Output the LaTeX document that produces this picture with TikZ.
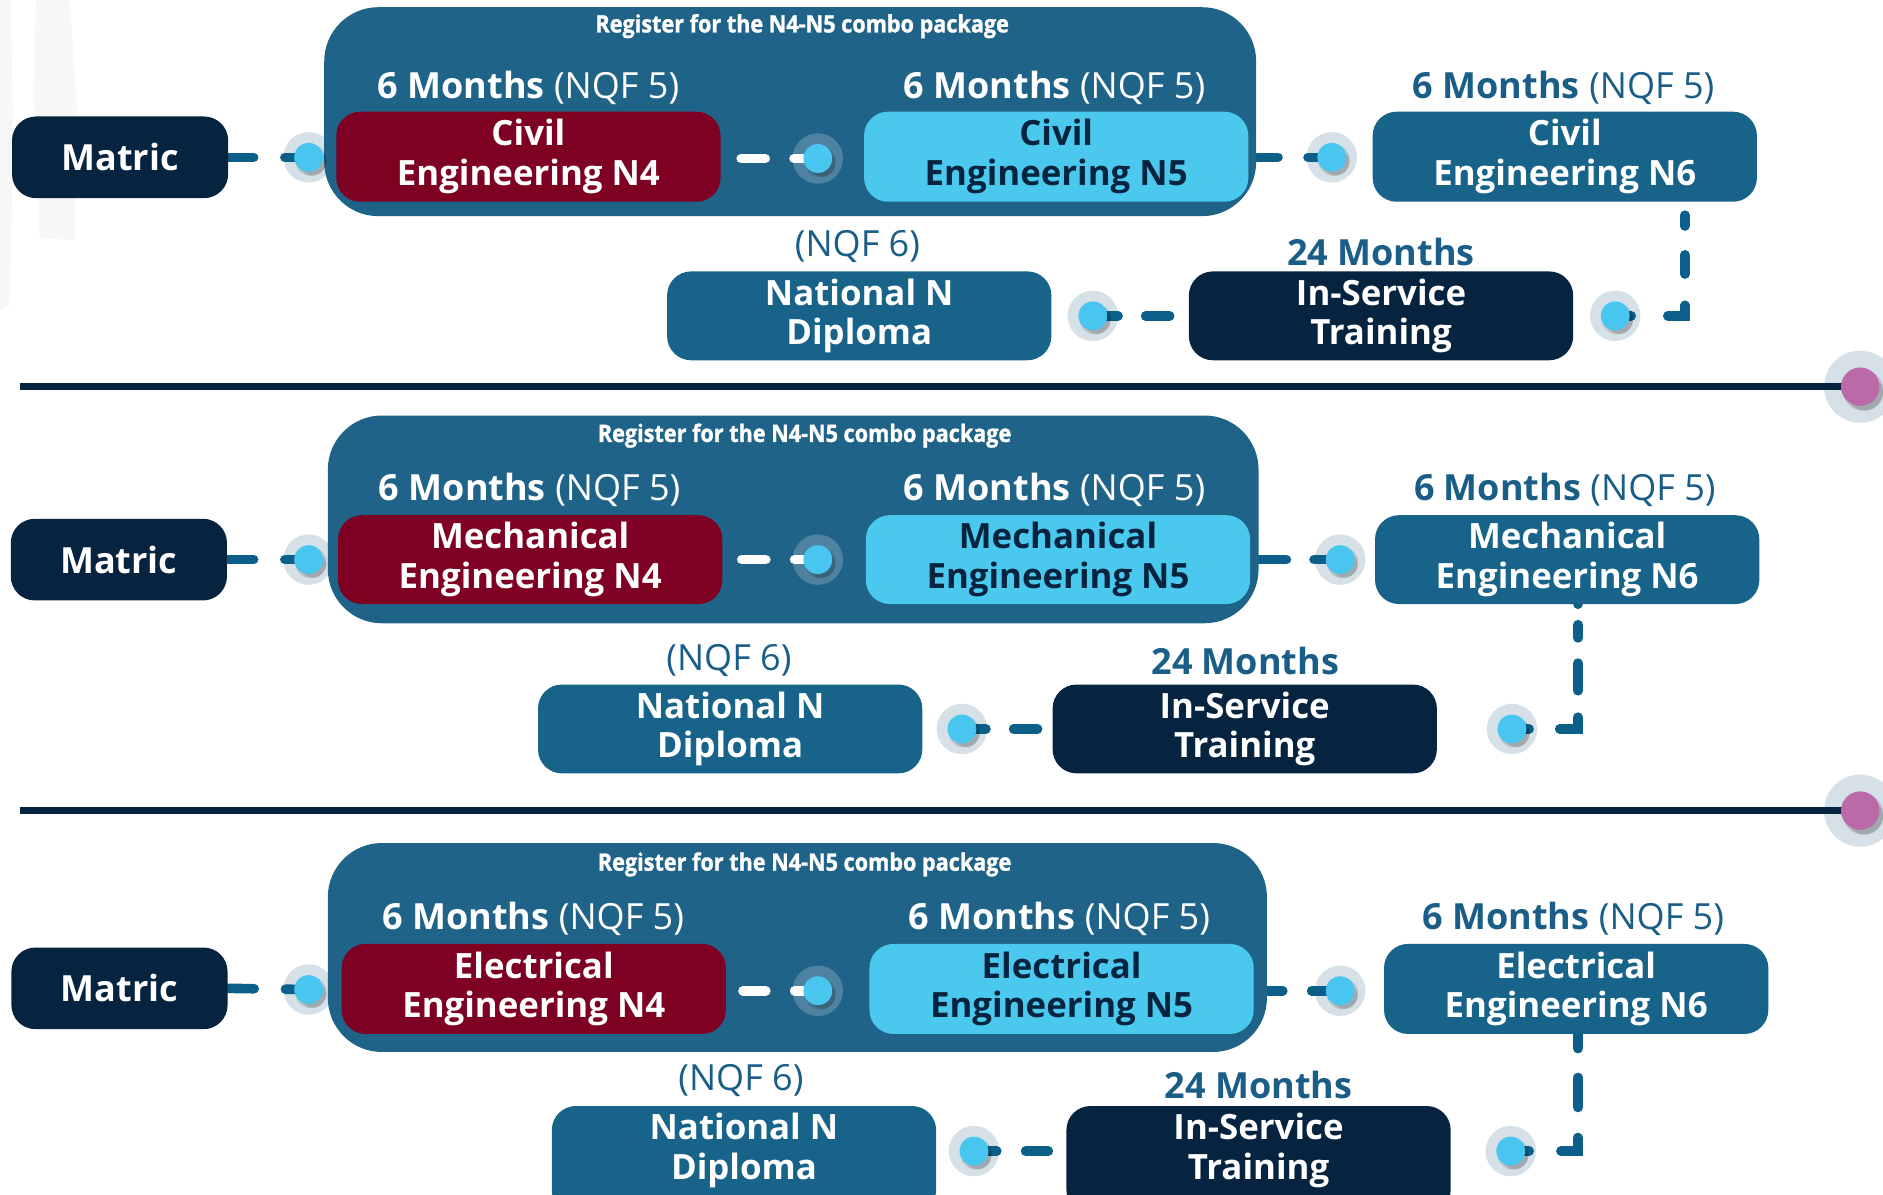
\documentclass[tikz,border=0pt]{standalone}
\usepackage{fontspec}
\setmainfont{Open Sans}
\newfontfamily\ttlfont{Open Sans}[FakeStretch=0.9, BoldFeatures={FakeBold=1.2}]
\usetikzlibrary{calc}
\pgfdeclarelayer{back}
\pgfdeclarelayer{cont}
\pgfdeclarelayer{mid}
\pgfsetlayers{back,cont,mid,main}
\definecolor{navy}{HTML}{06243F}
\definecolor{contblue}{HTML}{1F6389}
\definecolor{maroon}{HTML}{7E0022}
\definecolor{skyc}{HTML}{4BC8EE}
\definecolor{steel}{HTML}{17638A}
\definecolor{connc}{HTML}{0B5F88}
\definecolor{labc}{HTML}{1A5E87}
\definecolor{dotc}{HTML}{48C6EF}
\definecolor{haloc}{HTML}{98B2C3}
\definecolor{pinkc}{HTML}{BC69A9}
\tikzset{
  bx/.style={rounded corners=20pt, minimum width=320pt, minimum height=75pt, inner sep=0pt,
    align=center, text=white, font=\fontsize{29}{33}\selectfont\bfseries},
  boxtxt/.style={inner sep=0pt, align=center, text=white, font=\fontsize{29}{33}\selectfont\bfseries},
  matricbox/.style={bx, fill=navy, minimum width=180pt, minimum height=68pt,
    font=\fontsize{30}{33}\selectfont\bfseries},
  contbox/.style={rounded corners=45pt, fill=contblue, inner sep=0pt},
  labw/.style={anchor=base, inner sep=0pt, text=white, font=\fontsize{30}{36}\selectfont},
  labs/.style={labw, text=labc},
  ttl/.style={anchor=base, inner sep=0pt, text=white, font=\ttlfont\fontsize{20}{24}\selectfont\bfseries},
  dotn/.style={circle, fill=dotc, minimum size=24pt, inner sep=0pt},
  pinkn/.style={circle, fill=pinkc, minimum size=32pt, inner sep=0pt},
  cn/.style={draw=connc, line width=8pt, line cap=round},
  cw/.style={draw=white, line width=8pt, line cap=round},
  sepline/.style={draw=navy, line width=6pt},
  faint/.style={fill=black!3}
}
\newcommand\mkdot[3][back]{%
  \begin{pgfonlayer}{#1}\fill[haloc, fill opacity=.4] (#3) circle[radius=21pt];\end{pgfonlayer}
  \fill[black, fill opacity=.13] ($(#3)+(2,2.5)$) circle[radius=13pt];
  \fill[black, fill opacity=.13] ($(#3)+(3.5,4)$) circle[radius=11pt];
  \node[dotn] (#2) at (#3) {};}
\newcommand\mkpink[2]{%
  \begin{pgfonlayer}{back}\fill[haloc, fill opacity=.4] (#2) circle[radius=30pt];\end{pgfonlayer}
  \fill[black, fill opacity=.13] ($(#2)+(2.5,3)$) circle[radius=17pt];
  \fill[black, fill opacity=.13] ($(#2)+(4,5)$) circle[radius=15pt];
  \node[pinkn] (#1) at (#2) {};}
\begin{document}
\begin{tikzpicture}[x=1pt,y=-1pt]
\useasboundingbox (0,0) rectangle (1568,995);
\clip (0,0) rectangle (1568,995);
% faint brush strokes at left
\fill[faint] (0,0) -- (9,0) -- (11,120) -- (8,255) -- (0,258) -- cycle;
\fill[faint] (30,0) -- (58,0) -- (64,90) -- (62,200) -- (33,198) -- (28,80) -- cycle;

% ================= ROW 1 =================
\node[matricbox] (m1) at (100,131) {Matric};
\begin{pgfonlayer}{cont}
\node[contbox, minimum width=776pt, minimum height=174pt] (c1) at (658,93) {};
\end{pgfonlayer}
\node[ttl] (t1) at (668,27) {Register for the N4-N5 combo package};
\node[labw] (la1) at (440,82) {\textbf{6 Months} (NQF 5)};
\node[bx, fill=maroon] (a1) at (440,130.5) {Civil\\Engineering N4};
\node[labw] (lb1) at (878,82) {\textbf{6 Months} (NQF 5)};
\node[bx, fill=skyc, text=navy] (b1) at (879.5,130.5) {Civil\\Engineering N5};
\node[labs] (lc1) at (1302,82) {\textbf{6 Months} (NQF 5)};
\node[bx, fill=steel] (e1) at (1303,130.5) {Civil\\Engineering N6};
\node[labs] (ld1) at (1150,221) {\textbf{24 Months}};
\node[bx, fill=navy, minimum height=74pt] (s1) at (1150,263) {In-Service\\Training};
\node[labs] (le1) at (714,214) {(NQF 6)};
\node[bx, fill=steel, minimum height=74pt] (n1) at (715.5,263) {National N\\Diploma};
\mkdot{p1a}{257,131}
\mkdot[mid]{p1b}{681,132}
\mkdot{p1c}{1109,131}
\mkdot{p1d}{1345,263}
\mkdot{p1e}{910,263}
\mkpink{q1}{1549,322}
\coordinate (z1) at (17,322);

% ================= ROW 2 =================
\node[matricbox] (m2) at (99,466) {Matric};
\begin{pgfonlayer}{cont}
\node[contbox, minimum width=775pt, minimum height=173pt] (c2) at (660.5,432.5) {};
\end{pgfonlayer}
\node[ttl] (t2) at (670,368) {Register for the N4-N5 combo package};
\node[labw] (la2) at (441,417) {\textbf{6 Months} (NQF 5)};
\node[bx, fill=maroon, minimum height=74pt] (a2) at (441.5,466) {Mechanical\\Engineering N4};
\node[labw] (lb2) at (878,417) {\textbf{6 Months} (NQF 5)};
\node[bx, fill=skyc, text=navy, minimum height=74pt] (b2) at (881,466) {Mechanical\\Engineering N5};
\node[labs] (lc2) at (1303,417) {\textbf{6 Months} (NQF 5)};
\node[bx, fill=steel, minimum height=74pt] (e2) at (1305,466) {Mechanical\\Engineering N6};
\node[labs] (ld2) at (1037,562) {\textbf{24 Months}};
\node[bx, fill=navy, minimum height=74pt] (s2) at (1036.5,607) {In-Service\\Training};
\node[labs] (le2) at (607,558) {(NQF 6)};
\node[bx, fill=steel, minimum height=74pt] (n2) at (608,607) {National N\\Diploma};
\mkdot{p2a}{257,466}
\mkdot[mid]{p2b}{681,466}
\mkdot{p2c}{1116,466}
\mkdot{p2d}{1259,607}
\mkdot{p2e}{801,607}
\mkpink{q2}{1549,675}
\coordinate (z2) at (17,675);

% ================= ROW 3 =================
\node[matricbox] (m3) at (99.5,823) {Matric};
\begin{pgfonlayer}{cont}
\node[contbox, minimum width=782pt, minimum height=174pt] (c3) at (664,789) {};
\end{pgfonlayer}
\node[ttl] (t3) at (670,725) {Register for the N4-N5 combo package};
\node[labw] (la3) at (444,774) {\textbf{6 Months} (NQF 5)};
\node[bx, fill=maroon] (a3) at (444.5,823.5) {Electrical\\Engineering N4};
\node[labw] (lb3) at (882,774) {\textbf{6 Months} (NQF 5)};
\node[bx, fill=skyc, text=navy] (b3) at (884,823.5) {Electrical\\Engineering N5};
\node[labs] (lc3) at (1310,774) {\textbf{6 Months} (NQF 5)};
\node[bx, fill=steel] (e3) at (1312.5,823.5) {Electrical\\Engineering N6};
\node[labs] (ld3) at (1048,915) {\textbf{24 Months}};
\node[bx, fill=navy, minimum height=90pt] (s3) at (1048,966) {};
\node[boxtxt] (s3t) at (1048,958) {In-Service\\Training};
\node[labs] (le3) at (617,908) {(NQF 6)};
\node[bx, fill=steel, minimum height=90pt] (n3) at (619.5,966) {};
\node[boxtxt] (n3t) at (619.5,958) {National N\\Diploma};
\mkdot{p3a}{257,824}
\mkdot[mid]{p3b}{681,825}
\mkdot{p3c}{1116,825}
\mkdot{p3d}{1258,958.5}
\mkdot{p3e}{811,958.5}

% ================= CONNECTORS =================
\begin{pgfonlayer}{back}
% row 1
\draw[cn, dash pattern=on 21pt off 26pt on 40pt] (m1.east) -- (p1a.center);
\draw[cn, dash pattern=on 18pt off 25pt on 40pt] (c1.east |- p1c) -- (p1c.center);
\draw[cn, line join=miter, dash pattern=on 9pt off 24pt on 16pt off 26pt on 23pt off 30.5pt on 30pt off 11pt, dash phase=158.5pt]
  ($(e1.south)+(100,0)$) |- (p1d.center);
\draw[cn, dash pattern=on 21pt off 23pt on 20pt off 30pt] (p1e.center) -- (s1.west);
\draw[sepline] (z1) -- (q1.center);
% row 2
\draw[cn, dash pattern=on 22pt off 26pt on 40pt] (m2.east) -- (p2a.center);
\draw[cn, dash pattern=on 23pt off 23pt on 40pt] (c2.east |- p2c) -- (p2c.center);
\draw[cn, line join=miter, dash pattern=on 11pt off 21pt on 23pt off 22pt on 25pt off 25.5pt on 30pt off 17pt, dash phase=157.5pt]
  ($(e2.south)+(9,0)$) |- (p2d.center);
\draw[cn, dash pattern=on 20pt off 23pt on 20pt off 30pt] (p2e.center) -- (s2.west);
\draw[sepline] (z2) -- (q2.center);
% row 3
\draw[cn, dash pattern=on 22pt off 26pt on 40pt] (m3.east) -- (p3a.center);
\draw[cn, dash pattern=on 13pt off 24pt on 40pt] (c3.east |- p3c) -- (p3c.center);
\draw[cn, line join=miter, dash pattern=on 12pt off 24pt on 25pt off 25pt on 25.5pt off 26.5pt on 30pt]
  ($(e3.south)+(1.5,0)$) |- (p3d.center);
\draw[cn, dash pattern=on 19pt off 24pt on 19pt off 30pt] (p3e.center) -- (s3.west |- p3e);
\end{pgfonlayer}
\begin{pgfonlayer}{mid}
\draw[cw, dash pattern=on 20pt off 24pt on 40pt off 17pt, dash phase=84pt] (a1.east |- p1b) -- (p1b.center);
\draw[cw, dash pattern=on 20pt off 24pt on 40pt off 16pt, dash phase=84pt] (a2.east |- p2b) -- (p2b.center);
\draw[cw, dash pattern=on 19pt off 24pt on 40pt off 14pt, dash phase=83pt] (a3.east |- p3b) -- (p3b.center);
\end{pgfonlayer}
\end{tikzpicture}
\end{document}
